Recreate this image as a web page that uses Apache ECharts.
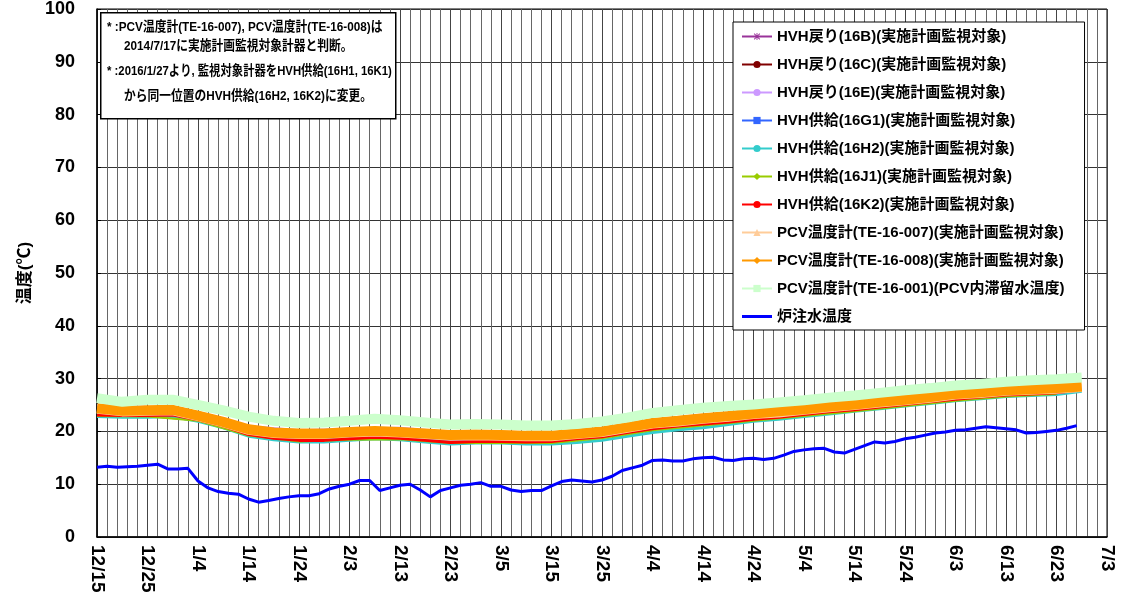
<!DOCTYPE html>
<html><head><meta charset="utf-8">
<script src="https://cdn.jsdelivr.net/npm/echarts@6/dist/echarts.min.js"></script>
<style>html,body{margin:0;padding:0;background:#fff}#c{width:1126px;height:605px}</style>
</head><body><div id="c"></div><script>
const FONT = '"Liberation Sans", Arial, "Noto Sans CJK JP", sans-serif';
const xTickLabels = ['12/15','12/25','1/4','1/14','1/24','2/3','2/13','2/23','3/5','3/15','3/25','4/4','4/14','4/24','5/4','5/14','5/24','6/3','6/13','6/23','7/3'];

// day offsets from 12/15
const bandDays = [0,5,10,15,20,25,30,35,40,45,50,55,60,65,70,75,80,85,90,95,100,105,110,115,120,125,130,135,140,145,150,155,160,165,170,175,180,185,190,195];
const te001 = [26.3,25.6,26.0,26.0,25.0,24.0,22.8,22.0,21.6,21.7,22.0,22.4,22.1,21.7,21.3,21.4,21.3,21.1,21.1,21.4,21.9,22.6,23.5,24.0,24.5,24.8,25.1,25.5,25.9,26.4,26.8,27.3,27.8,28.2,28.7,29.0,29.4,29.7,29.9,30.2];
const te008 = [24.4,23.9,24.0,24.1,23.0,21.8,20.4,19.8,19.6,19.6,19.9,20.1,19.9,19.6,19.3,19.4,19.3,19.2,19.2,19.6,20.0,20.8,21.6,22.0,22.5,22.9,23.4,23.8,24.2,24.7,25.1,25.6,26.0,26.5,27.1,27.4,27.8,28.0,28.2,28.5];
const te007 = [24.1,23.6,23.7,23.8,22.7,21.5,20.1,19.5,19.3,19.3,19.6,19.8,19.6,19.3,19.0,19.1,19.0,18.9,18.9,19.3,19.7,20.5,21.3,21.7,22.2,22.6,23.1,23.4,23.9,24.4,24.8,25.3,25.7,26.2,26.8,27.1,27.5,27.7,27.9,28.2];
const hvh16K2 = [23.1,23.0,23.0,23.1,22.2,21.0,19.4,18.7,18.3,18.3,18.6,18.9,18.7,18.3,17.9,18.1,18.1,18.0,18.1,18.6,19.0,19.8,20.5,21.0,21.4,21.8,22.3,22.7,23.2,23.7,24.1,24.6,25.1,25.6,26.1,26.5,26.9,27.1,27.3,27.9];
const hvh16H2 = [22.8,22.7,22.7,22.8,21.9,20.7,19.1,18.4,18.0,18.0,18.3,18.6,18.4,18.0,17.6,17.8,17.8,17.6,17.6,17.9,18.3,19.1,19.8,20.3,20.7,21.3,21.9,22.3,22.8,23.3,23.8,24.3,24.8,25.3,25.8,26.2,26.6,26.8,27.0,27.6];

const hiddenDays = [0,10,20,30,40,50,60,70,80,90,100,110,120,130,140,150,160,170,180,190];
const hvh16B = [23.4,23.3,22.5,19.7,18.6,18.9,19.0,18.2,18.4,18.4,19.3,20.8,21.7,22.6,23.5,24.4,25.4,26.4,27.2,27.6];
const hvh16C = [23.2,23.1,22.3,19.5,18.4,18.7,18.8,18.0,18.2,18.2,19.1,20.6,21.5,22.4,23.3,24.2,25.2,26.2,27.0,27.4];
const hvh16E = [25.0,24.6,23.6,21.0,20.2,20.5,20.7,19.9,19.9,19.8,20.6,22.2,23.1,24.0,24.8,25.7,26.6,27.7,28.4,28.8];
const hvh16G1 = [23.0,22.9,22.1,19.3,18.3,18.5,18.6,17.9,18.0,18.0,18.9,20.4,21.3,22.2,23.1,24.0,25.0,26.0,26.8,27.2];
const hvh16J1 = [22.9,22.8,22.0,19.2,18.1,18.4,18.5,17.8,17.8,17.8,18.7,20.2,21.1,22.0,22.9,23.8,24.8,25.8,26.6,27.1];

// reactor injection water temperature, every 2 days from 12/15
const injection = [13.2,13.4,13.2,13.3,13.4,13.6,13.8,12.9,12.9,13.0,
10.6,9.3,8.6,8.3,8.1,7.2,6.6,6.9,7.3,7.6,
7.8,7.8,8.2,9.1,9.6,10.0,10.7,10.7,8.8,9.3,
9.8,10.0,8.9,7.6,8.8,9.3,9.8,10.0,10.3,9.6,
9.6,8.9,8.6,8.8,8.8,9.7,10.5,10.8,10.6,10.4,
10.8,11.5,12.6,13.1,13.6,14.5,14.6,14.4,14.4,14.8,
15.0,15.1,14.6,14.5,14.8,14.9,14.7,14.9,15.5,16.2,
16.5,16.7,16.8,16.1,15.9,16.6,17.3,18.0,17.8,18.1,
18.6,18.9,19.3,19.7,19.9,20.2,20.3,20.6,20.9,20.7,
20.5,20.3,19.7,19.8,20.0,20.2,20.6,21.1];

const noteLines = [
  '* :PCV温度計(TE-16-007), PCV温度計(TE-16-008)は',
  '2014/7/17に実施計画監視対象計器と判断。',
  '* :2016/1/27より, 監視対象計器をHVH供給(16H1, 16K1)',
  'から同一位置のHVH供給(16H2, 16K2)に変更。'
];

const pair = (days, vals) => vals.map((v, i) => [days[i], v]);
const STAR = 'path://M3.5,0h1v8h-1z M0,3.5h8v1h-8z M1.2,0.5L7.5,6.8L6.8,7.5L0.5,1.2z M6.8,0.5L7.5,1.2L1.2,7.5L0.5,6.8z';
const LINE_ICON = 'path://M0,0h0.01v0.01h-0.01z M0,3h30v3h-30z M29.99,8.99h0.01v0.01h-0.01z';

function ser(name, data, color, width, symbol, symSize) {
  return {
    name, type: 'line', data, showSymbol: false, symbol, symbolSize: symSize,
    itemStyle: { color }, lineStyle: { color, width },
    emphasis: { disabled: true }, animation: false, silent: true
  };
}

const series = [
  ser('HVH戻り(16B)(実施計画監視対象)', pair(hiddenDays, hvh16B), '#993399', 2, STAR, 9),
  ser('HVH戻り(16C)(実施計画監視対象)', pair(hiddenDays, hvh16C), '#800000', 2, 'circle', 8),
  ser('HVH戻り(16E)(実施計画監視対象)', pair(hiddenDays, hvh16E), '#CC99FF', 2, 'circle', 8),
  ser('HVH供給(16G1)(実施計画監視対象)', pair(hiddenDays, hvh16G1), '#3366FF', 2, 'rect', 4),
  ser('HVH供給(16H2)(実施計画監視対象)', pair(bandDays, hvh16H2), '#33CCCC', 3, 'circle', 8),
  ser('HVH供給(16J1)(実施計画監視対象)', pair(hiddenDays, hvh16J1), '#99CC00', 2, 'diamond', 8),
  ser('HVH供給(16K2)(実施計画監視対象)', pair(bandDays, hvh16K2), '#FF0000', 3, 'circle', 8),
  ser('PCV温度計(TE-16-007)(実施計画監視対象)', pair(bandDays, te007), '#FFCC99', 8, 'triangle', 8),
  ser('PCV温度計(TE-16-008)(実施計画監視対象)', pair(bandDays, te008), '#FF9900', 10, 'diamond', 8),
  ser('PCV温度計(TE-16-001)(PCV内滞留水温度)', pair(bandDays, te001), '#CCFFCC', 10, 'rect', 8),
  ser('炉注水温度', pair(injection.map((v, i) => i * 2), injection), '#0000FF', 3, 'none', 0)
];

const legendData = series.map(s => s.name === '炉注水温度'
  ? { name: s.name, icon: LINE_ICON, itemStyle: { color: '#0000FF' } }
  : { name: s.name });

const noteStyle = { fontSize: 13.5, fontWeight: 'bold', fill: '#000', fontFamily: FONT };
const chart = echarts.init(document.getElementById('c'), null, { renderer: 'canvas' });
chart.setOption({
  animation: false,
  backgroundColor: '#fff',
  grid: { left: 97, right: 19, top: 9, bottom: 68, show: true, borderColor: '#000', borderWidth: 1, backgroundColor: 'transparent' },
  xAxis: {
    type: 'value', min: 0, max: 200, interval: 10,
    axisLine: { show: true, onZero: false, lineStyle: { color: '#000', width: 1.5 } },
    axisTick: { show: false },
    axisLabel: { rotate: -90, fontSize: 19, fontWeight: 'bold', color: '#000', fontFamily: FONT, margin: 8,
      formatter: v => xTickLabels[Math.round(v / 10)] || '' },
    splitLine: { show: true, lineStyle: { color: '#444', width: 1 } },
    minorTick: { show: false, splitNumber: 5 },
    minorSplitLine: { show: true, lineStyle: { color: '#666', width: 1 } }
  },
  yAxis: {
    type: 'value', min: 0, max: 100, interval: 10,
    name: '温度(℃)', nameLocation: 'middle', nameRotate: 90, nameGap: 55,
    nameTextStyle: { fontSize: 17, fontWeight: 'bold', color: '#000', fontFamily: FONT },
    axisLine: { show: true, lineStyle: { color: '#000', width: 1.5 } },
    axisTick: { show: true, inside: true, length: 4, lineStyle: { color: '#000' } },
    axisLabel: { fontSize: 18, fontWeight: 'bold', color: '#000', fontFamily: FONT, margin: 22 },
    splitLine: { show: true, lineStyle: { color: '#333', width: 1 } }
  },
  legend: {
    orient: 'vertical', left: 733, top: 22,
    backgroundColor: '#fff', borderColor: '#000', borderWidth: 1,
    padding: [6, 20, 5, 8],
    itemWidth: 30, itemHeight: 9, itemGap: 11,
    selectedMode: false,
    lineStyle: { width: 2 },
    textStyle: { fontSize: 15, lineHeight: 17, fontWeight: 'bold', color: '#000', fontFamily: FONT },
    data: legendData
  },
  graphic: [
    { type: 'rect', left: 100, top: 12, shape: { width: 295, height: 106 },
      style: { fill: '#fff', stroke: '#000', lineWidth: 1.5 }, z: 100 },
    { type: 'text', x: 107, y: 21, scaleX: 0.87, z: 101, style: Object.assign({ text: noteLines[0] }, noteStyle) },
    { type: 'text', x: 124, y: 40, scaleX: 0.87, z: 101, style: Object.assign({ text: noteLines[1] }, noteStyle) },
    { type: 'text', x: 107, y: 65, scaleX: 0.84, z: 101, style: Object.assign({ text: noteLines[2] }, noteStyle) },
    { type: 'text', x: 124, y: 90, scaleX: 0.87, z: 101, style: Object.assign({ text: noteLines[3] }, noteStyle) }
  ],
  series
});
</script></body></html>
